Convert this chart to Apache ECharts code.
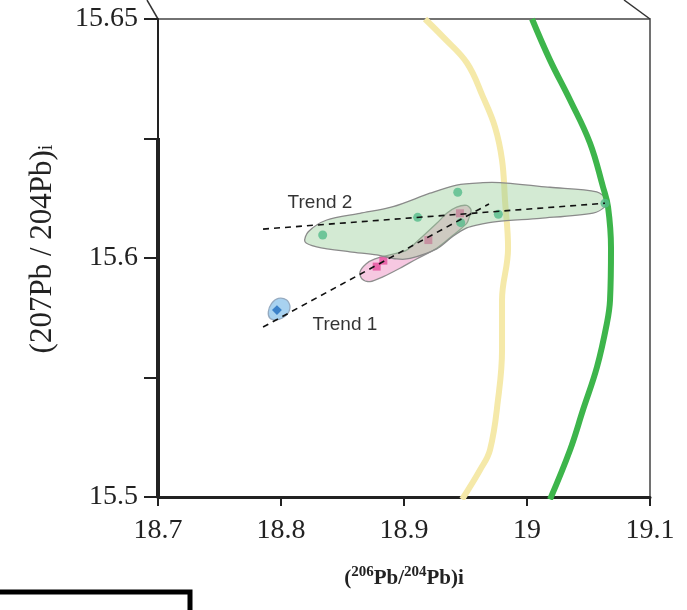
<!DOCTYPE html>
<html>
<head>
<meta charset="utf-8">
<script src="https://cdn.jsdelivr.net/npm/echarts@6/dist/echarts.min.js"></script>
<style>html,body{margin:0;padding:0;background:#fff;}#chart{width:687px;height:610px;}</style>
</head>
<body>
<div id="chart"></div>
<script>
// ---- tick labels ----
const xTickLabels = ['18.7', '18.8', '18.9', '19', '19.1'];
const yTickLabels = ['15.5', '', '15.6', '', '15.65'];

// ---- reference curves [206Pb/204Pb, 207Pb/204Pb] ----
const yellowCurve = [
  [18.9171, 15.700], [18.9317, 15.6925], [18.9512, 15.6816], [18.9642, 15.6674],
  [18.9740, 15.6548], [18.9797, 15.6410], [18.9821, 15.6243], [18.9846, 15.6042],
  [18.9797, 15.5824], [18.9797, 15.5615], [18.9764, 15.5406], [18.9699, 15.5197],
  [18.9618, 15.5113], [18.9472, 15.4990]
];
const greenCurve = [
  [19.0041, 15.700], [19.0187, 15.6828], [19.0350, 15.6661], [19.0512, 15.6481],
  [19.0618, 15.6297], [19.0659, 15.6213], [19.0683, 15.6042], [19.0675, 15.5824],
  [19.0650, 15.5728], [19.0569, 15.5544], [19.0455, 15.5364], [19.0350, 15.5197],
  [19.0187, 15.4990]
];

// ---- sample points ----
const greenPoints = [
  [18.8339, 15.6096], [18.9111, 15.6170], [18.9437, 15.6275],
  [18.9461, 15.6148], [18.9767, 15.6183], [19.0634, 15.6229]
];
const pinkPoints = [
  [18.8778, 15.5964], [18.8832, 15.5989], [18.9198, 15.6075], [18.9455, 15.6187]
];
const bluePoints = [[18.7967, 15.5782]];

// ---- field envelopes ----
const greenEnvelope = [
  [18.8195, 15.6068], [18.8222, 15.6110], [18.8372, 15.6159], [18.8642, 15.6187],
  [18.8911, 15.6215], [18.9211, 15.6271], [18.9428, 15.6305], [18.9642, 15.6315],
  [18.9780, 15.6315], [19.0187, 15.6296], [19.0567, 15.6277], [19.0648, 15.6243],
  [19.0634, 15.6215], [19.0537, 15.6188], [19.0106, 15.6166], [18.9754, 15.6152],
  [18.9591, 15.6138], [18.9510, 15.6126], [18.9401, 15.6092], [18.9266, 15.6038],
  [18.9049, 15.5998], [18.8941, 15.5996], [18.8778, 15.6013], [18.8561, 15.6026],
  [18.8290, 15.6047]
];
const pinkEnvelope = [
  [18.8642, 15.5941], [18.8691, 15.5975], [18.8764, 15.5996], [18.8886, 15.6013],
  [18.9022, 15.6033], [18.9146, 15.6088], [18.9266, 15.6145], [18.9350, 15.6188],
  [18.9428, 15.6213], [18.9510, 15.6220], [18.9545, 15.6201], [18.9528, 15.6167],
  [18.9510, 15.6145], [18.9401, 15.6096], [18.9266, 15.6041], [18.9103, 15.5996],
  [18.8967, 15.5957], [18.8832, 15.5922], [18.8724, 15.5901], [18.8659, 15.5912]
];
const blueEnvelope = [
  [18.7897, 15.5775], [18.7924, 15.5810], [18.7978, 15.5831], [18.8046, 15.5824],
  [18.8073, 15.5796], [18.8046, 15.5762], [18.7965, 15.5741], [18.7911, 15.5748]
];

// ---- trend lines ----
const trend1 = [[18.7854, 15.5711], [18.9691, 15.6226]];
const trend2 = [[18.7854, 15.6121], [19.0634, 15.6229]];
const trendLabels = [
  { name: 'Trend 2', value: [18.8317, 15.6230] },
  { name: 'Trend 1', value: [18.8520, 15.5720] }
];

function envelope(points, fill, stroke) {
  return {
    type: 'custom',
    data: [points[0]],
    silent: true,
    renderItem: function (params, api) {
      const pts = points.map(p => api.coord(p));
      return {
        type: 'polygon',
        shape: { points: pts, smooth: 0.3 },
        style: { fill: fill, stroke: stroke, lineWidth: 1.3 }
      };
    }
  };
}

const serif = 'Liberation Serif';
const chart = echarts.init(document.getElementById('chart'));
chart.setOption({
  animation: false,
  backgroundColor: '#fff',
  grid: { left: 158, top: 19, width: 492, height: 478, show: true, borderColor: '#444', borderWidth: 1.5, backgroundColor: 'transparent' },
  xAxis: {
    type: 'value', min: 18.7, max: 19.1, interval: 0.1,
    name: '{p|(}{s|206}{p|Pb/}{s|204}{p|Pb)i}',
    nameLocation: 'middle', nameGap: 68,
    nameTextStyle: {
      rich: {
        p: { fontFamily: serif, fontSize: 21, fontWeight: 'bold', color: '#222' },
        s: { fontFamily: serif, fontSize: 15, fontWeight: 'bold', color: '#222', padding: [0, 0, 12, 0] }
      }
    },
    axisLine: { show: true, lineStyle: { color: '#222', width: 3 } },
    axisTick: { show: true, length: 9, lineStyle: { color: '#222', width: 2 } },
    axisLabel: {
      margin: 20, fontFamily: serif, fontSize: 28, color: '#222',
      formatter: v => xTickLabels[Math.round((v - 18.7) / 0.1)]
    },
    splitLine: { show: false }
  },
  yAxis: {
    type: 'value', min: 15.5, max: 15.7, interval: 0.05,
    name: '{p|(207Pb / 204Pb)}{i|i}',
    nameLocation: 'middle', nameGap: 100,
    nameTextStyle: {
      padding: [0, 0, 0, 18],
      rich: {
        p: { fontFamily: serif, fontSize: 31, color: '#222' },
        i: { fontFamily: serif, fontSize: 20, color: '#222', padding: [0, 0, -9, 0] }
      }
    },
    axisLine: { show: true, lineStyle: { color: '#222', width: 2 } },
    axisTick: { show: true, length: 14, lineStyle: { color: '#222', width: 2 } },
    axisLabel: {
      margin: 20, fontFamily: serif, fontSize: 28, color: '#222',
      formatter: v => yTickLabels[Math.round((v - 15.5) / 0.05)]
    },
    splitLine: { show: false }
  },
  series: [
    { type: 'line', data: yellowCurve, smooth: 0.4, showSymbol: false, lineStyle: { color: '#f5e9a9', width: 6 }, z: 1 },
    Object.assign(envelope(pinkEnvelope, 'rgba(236,140,192,0.48)', '#8f8f8f'), { z: 2 }),
    { type: 'scatter', data: pinkPoints, symbol: 'rect', symbolSize: 8, itemStyle: { color: '#e64d9c' }, z: 2 },
    Object.assign(envelope(blueEnvelope, '#a8d2f0', '#95aac0'), { z: 2 }),
    { type: 'scatter', data: bluePoints, symbol: 'rect', symbolRotate: 45, symbolSize: 7, itemStyle: { color: '#1f6dbf' }, z: 2 },
    Object.assign(envelope(greenEnvelope, 'rgba(150,205,150,0.42)', '#8a8a8a'), { z: 3 }),
    { type: 'line', data: greenCurve, smooth: 0.4, showSymbol: false, lineStyle: { color: '#3db54b', width: 6 }, z: 3 },
    { type: 'scatter', data: greenPoints, symbolSize: 9, itemStyle: { color: '#55bb8b' }, z: 4 },
    { type: 'line', data: trend1, showSymbol: false, lineStyle: { color: '#111', width: 1.6, type: [6, 5] }, z: 5 },
    { type: 'line', data: trend2, showSymbol: false, lineStyle: { color: '#111', width: 1.6, type: [6, 5] }, z: 5 },
    {
      type: 'scatter', data: trendLabels, symbolSize: 0, z: 6,
      label: { show: true, position: 'inside', formatter: '{b}', color: '#000', fontFamily: 'Liberation Sans', fontSize: 19 }
    }
  ],
  graphic: [
    { type: 'line', shape: { x1: 158, y1: 138, x2: 158, y2: 498 }, style: { stroke: '#222', lineWidth: 4 }, z: 100 },
    { type: 'line', shape: { x1: 147, y1: 0, x2: 158, y2: 19 }, style: { stroke: '#333', lineWidth: 1.5 } },
    { type: 'line', shape: { x1: 624, y1: 0, x2: 650, y2: 19 }, style: { stroke: '#333', lineWidth: 1.5 } },
    { type: 'polyline', shape: { points: [[0, 592], [190, 592], [190, 612]] }, style: { stroke: '#000', lineWidth: 5, fill: null } }
  ]
});
</script>
</body>
</html>
